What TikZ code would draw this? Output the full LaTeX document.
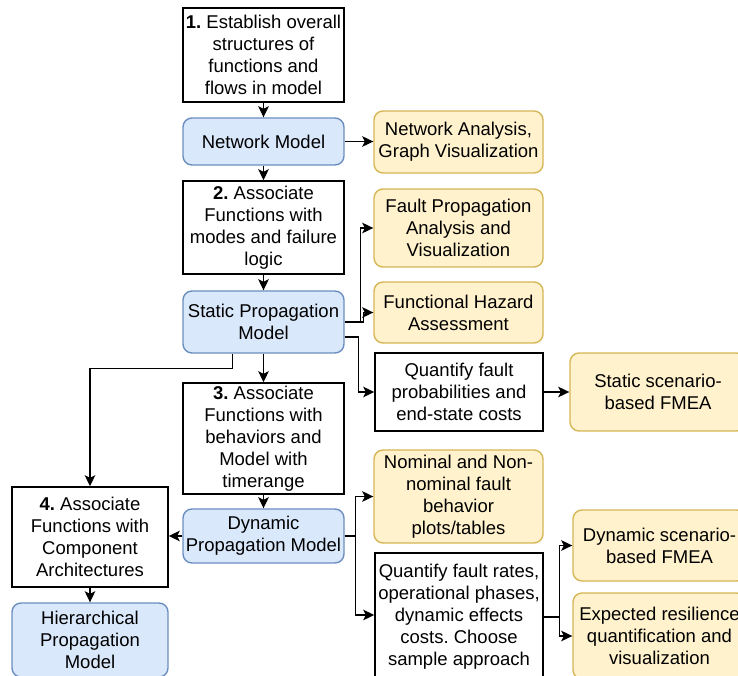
\documentclass[tikz,border=0pt]{standalone}
\usepackage{fontspec}
\setmainfont{Liberation Sans}
\usetikzlibrary{arrows.meta}
\definecolor{blueF}{HTML}{DAE8FC}
\definecolor{blueD}{HTML}{6C8EBF}
\definecolor{yelF}{HTML}{FFF2CC}
\definecolor{yelD}{HTML}{D6B656}
\frenchspacing

\tikzset{
  base/.style={inner sep=0pt, align=center, font=\fontsize{18.5}{22}\selectfont, text=black},
  stepbox/.style={base, draw=black, line width=1.5pt, fill=white},
  modelbox/.style={base, draw=blueD, fill=blueF, line width=1.4pt, rounded corners=9pt},
  outbox/.style={base, draw=yelD, fill=yelF, line width=1.4pt, rounded corners=9pt},
  arr/.style={-{Stealth[length=11pt,width=10.5pt,inset=2.5pt]}, line width=1.4pt},
  sz/.style 2 args={minimum width=#1pt, minimum height=#2pt}
}

\begin{document}
\begin{tikzpicture}[x=1pt, y=-1pt]
\useasboundingbox (0,0) rectangle (738,676);
\clip (0,0) rectangle (738,676);

% main column
\node[stepbox, sz={161}{94}] (b1) at (263.5,55) {\textbf{1.} Establish overall\\structures of\\functions and\\flows in model};
\node[modelbox, sz={161}{47}] (nm) at (263.5,141.5) {Network Model};
\node[stepbox, sz={161}{93}] (b2) at (263.5,227.5) {\textbf{2.} Associate\\Functions with\\modes and failure\\logic};
\node[modelbox, sz={161}{62}] (spm) at (263.5,322) {Static Propagation\\Model};
\node[stepbox, sz={161}{111}] (b3) at (263.5,438.5) {\textbf{3.} Associate\\Functions with\\behaviors and\\Model with\\timerange};
\node[modelbox, sz={161}{54}] (dpm) at (263.5,536) {Dynamic\\Propagation Model};

% left column
\node[stepbox, sz={156}{100}] (b4) at (90,537) {\textbf{4.} Associate\\Functions with\\Component\\Architectures};
\node[modelbox, sz={156}{74}] (hpm) at (90,640) {Hierarchical\\Propagation\\Model};

% outputs and quantification steps
\node[outbox, sz={169}{62}] (na) at (458.5,142) {Network Analysis,\\Graph Visualization};
\node[outbox, sz={169}{78}] (fpa) at (458.5,228) {Fault Propagation\\Analysis and\\Visualization};
\node[outbox, sz={169}{61}] (fha) at (458.5,312.5) {Functional Hazard\\Assessment};
\node[stepbox, sz={168}{78}] (qf1) at (459,392) {Quantify fault\\probabilities and\\end-state costs};
\node[outbox, sz={176}{78}] (sfmea) at (658,392) {Static scenario-\\based FMEA};
\node[outbox, sz={169}{93}] (nom) at (458.5,496.5) {Nominal and Non-\\nominal fault\\behavior\\plots/tables};
\node[stepbox, sz={168}{128}] (qf2) at (459,617) {Quantify fault rates,\\operational phases,\\dynamic effects\\costs. Choose\\sample approach};
\node[outbox, sz={173}{71}] (dfmea) at (659.5,545.5) {Dynamic scenario-\\based FMEA};
\node[outbox, sz={173}{86}] (exp) at (659.5,636) {Expected resilience\\quantification and\\visualization};

% connectors
\draw[arr] (b1) -- (nm);
\draw[arr] (nm.east) -- (na.west |- nm.east);
\draw[arr] (nm) -- (b2);
\draw[arr] (b2) -- (spm);
\draw[arr] (spm.east) -- ++(16,0) |- (fpa.west);
\draw[arr] (spm.east) -- ++(19,0) |- (fha.west);
\draw[arr] ([yshift=-15pt]spm.east) -- ++(14,0) |- (qf1.west);
\draw[arr] (qf1) -- (sfmea);
\draw[arr] (spm) -- (b3);
\draw[arr] ([xshift=-31pt]spm.south) -- ++(0,15) -| (b4.north);
\draw[arr] (b3) -- (dpm);
\draw[arr] (dpm.west) -- (b4.east |- dpm.west);
\draw[arr] (b4) -- (hpm);
\draw[arr] (dpm.east) -- ++(11,0) |- (nom.west);
\draw[arr] (dpm.east) -- ++(11,0) |- ([yshift=2pt]qf2.west);
\draw[arr] (qf2.east) -- ++(16,0) |- (dfmea.west);
\draw[arr] (qf2.east) -- ++(16,0) |- (exp.west);
\end{tikzpicture}
\end{document}
